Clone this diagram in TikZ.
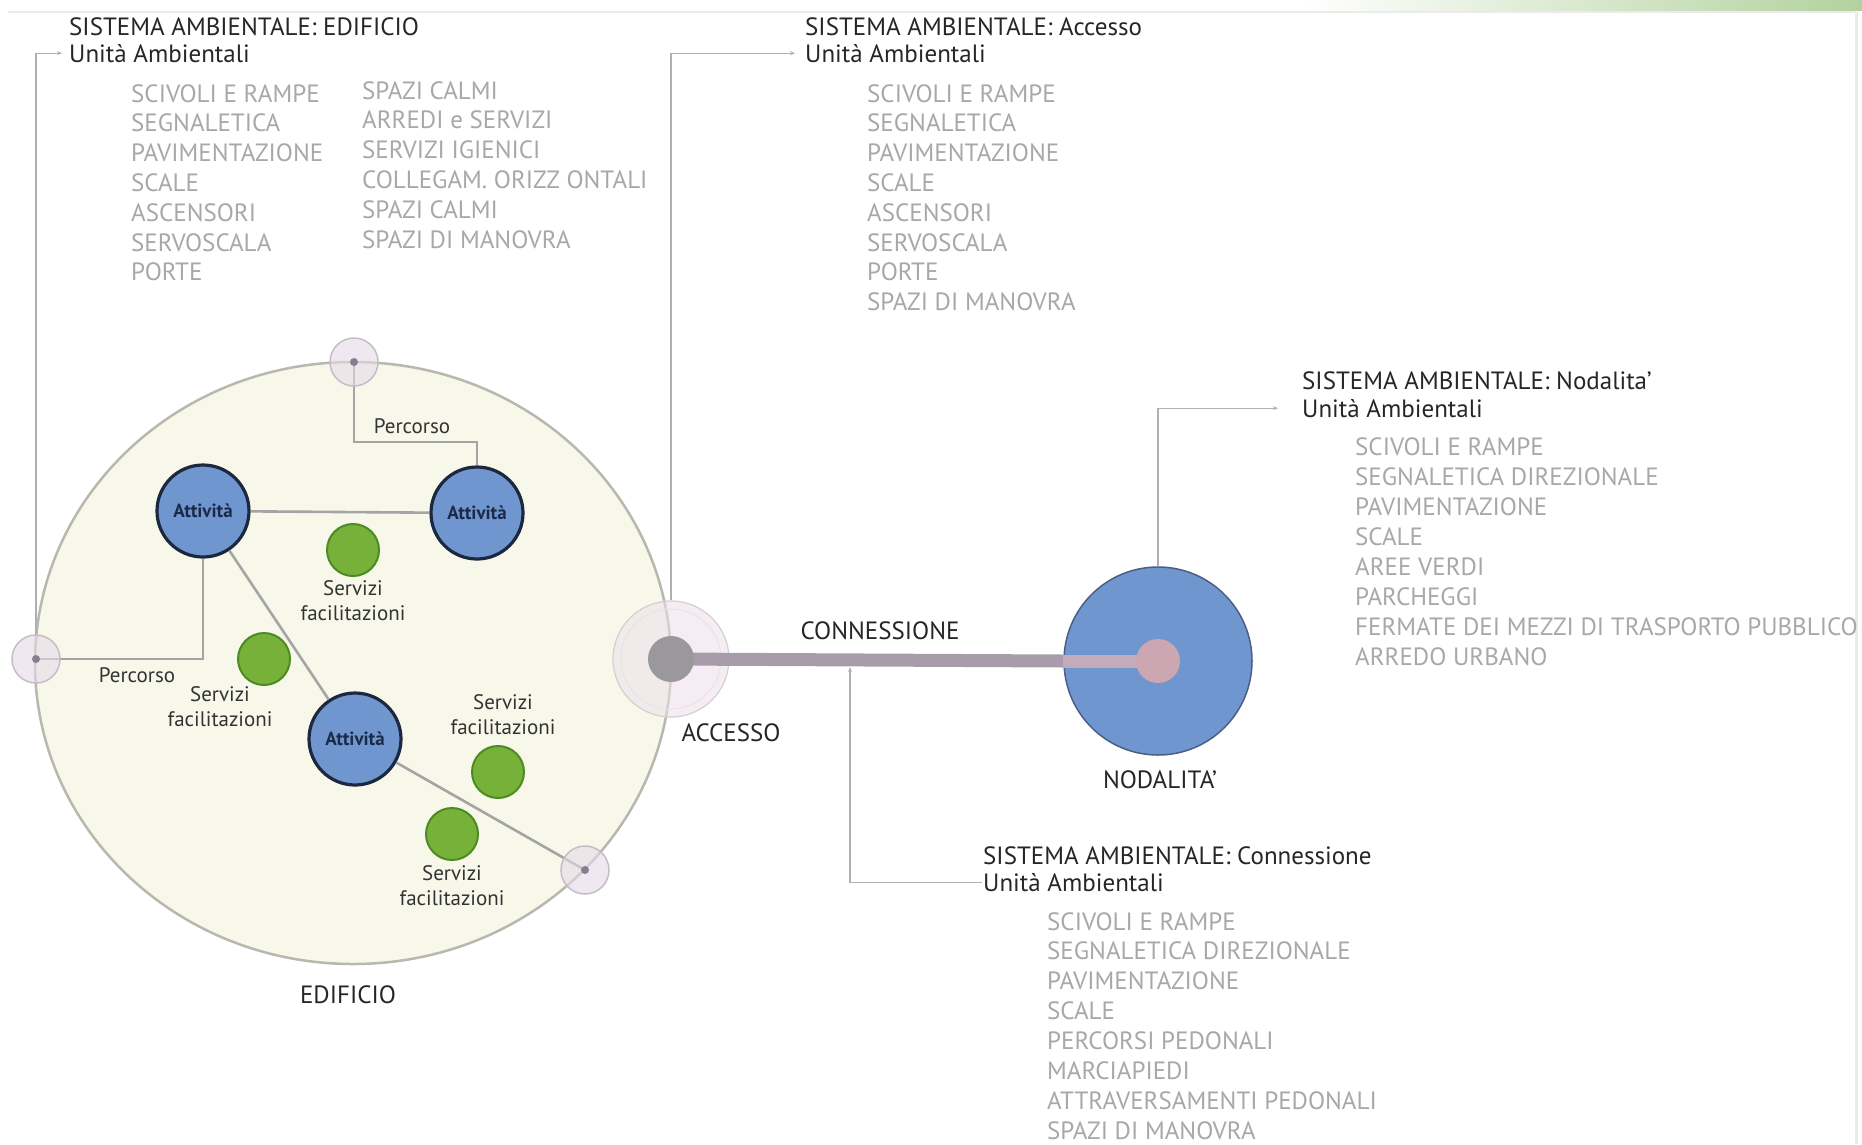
\documentclass[tikz,border=0pt]{standalone}
\usepackage{fontspec}
\setmainfont{PT Sans}
\usetikzlibrary{arrows.meta,shapes.geometric}
\definecolor{headc}{HTML}{262626}
\definecolor{itemc}{HTML}{A8A8A8}
\definecolor{linec}{HTML}{B0B0B0}
\definecolor{pathc}{HTML}{A4A4A4}
\definecolor{edfill}{HTML}{F8F8EA}
\definecolor{edline}{HTML}{B8B8AE}
\definecolor{actfill}{HTML}{7096CF}
\definecolor{actline}{HTML}{1C2840}
\definecolor{acttext}{HTML}{1C2A4A}
\definecolor{grfill}{HTML}{78B13A}
\definecolor{grline}{HTML}{4C8A26}
\definecolor{slabc}{HTML}{333333}
\definecolor{smfill}{HTML}{E6DAE8}
\definecolor{smline}{HTML}{C6BCC8}
\definecolor{smdot}{HTML}{8C7C8E}
\definecolor{accfill}{HTML}{EDE0EA}
\definecolor{accdisc}{HTML}{9B989C}
\definecolor{barc}{HTML}{A89CAB}
\definecolor{barin}{HTML}{C2ACBC}
\definecolor{pinkd}{HTML}{CCA6B0}
\definecolor{nodfill}{HTML}{7096CF}
\definecolor{nodline}{HTML}{4B5F84}
\definecolor{barG}{HTML}{B3D19E}
\begin{document}
\begin{tikzpicture}[x=1pt,y=-1pt,
  headtxt/.style={anchor=base west,inner sep=0pt,text=headc,font=\fontsize{25}{28}\selectfont},
  itemtxt/.style={anchor=base west,inner sep=0pt,text=itemc,font=\fontsize{25}{28}\selectfont},
  conn/.style={draw=linec,line width=1.3pt,-{Stealth[length=5pt,width=4pt]}},
  act/.style={circle,draw=actline,line width=3.2pt,fill=actfill,minimum size=92pt,inner sep=0pt,text=acttext,font=\fontsize{19}{22}\selectfont\bfseries},
  serv/.style={circle,draw=grline,line width=2pt,fill=grfill,minimum size=52pt,inner sep=0pt},
  slab/.style={align=center,inner sep=0pt,text=slabc,font=\fontsize{21}{25}\selectfont},
  perc/.style={draw=pathc,line width=2.6pt},
  smallc/.style={circle,draw=smline,line width=1.5pt,fill=smfill,fill opacity=0.6,minimum size=48pt,inner sep=0pt},
  cdot/.style={circle,fill=smdot,minimum size=8pt,inner sep=0pt},
  biglab/.style={inner sep=0pt,text=headc,font=\fontsize{25}{28}\selectfont}
]
\useasboundingbox (0,0) rectangle (1862,1144);
\fill[white] (0,0) rectangle (1862,1144);
\shade[left color=white,right color=barG] (1300,0) rectangle (1862,10);
\draw[black!8,line width=2pt] (8,12) -- (1856,12);
\draw[black!8,line width=3pt] (1856,12) -- (1856,1144);

% building
\node[ellipse,draw=edline,line width=2.5pt,fill=edfill,minimum width=636pt,minimum height=602pt,inner sep=0pt] (edif) at (353,663) {};
\node[biglab] (edlab) at (348,995) {EDIFICIO};

% key points
\coordinate (tc) at (354,362);
\coordinate (lc) at (36,659);
\coordinate (bc) at (585,870);
\coordinate (accp) at (671,659);

% nodalita
\node[circle,draw=nodline,line width=1.5pt,fill=nodfill,minimum size=188pt,inner sep=0pt] (nod) at (1158,661) {};
\node[biglab] (nodlab) at (1160,780) {NODALITA'};

% accesso
\node[circle,draw=black!18,line width=1.2pt,fill=accfill,fill opacity=0.55,minimum size=116pt,inner sep=0pt] (acco) at (accp) {};
\node[circle,draw=black!10,line width=1pt,minimum size=100pt,inner sep=0pt] (acci) at (accp) {};
\node[biglab] (acclab) at (731,733) {ACCESSO};

% connection bar
\draw[barc,line width=13pt] (accp) -- (nod.west);
\draw[barin,line width=13pt] (nod.west) -- (nod.center);
\node[circle,fill=pinkd,minimum size=44pt,inner sep=0pt] (nodc) at (nod.center) {};
\node[circle,fill=accdisc,minimum size=46pt,inner sep=0pt] (accd) at (accp) {};
\node[biglab] (conlab) at (880,631) {CONNESSIONE};
\coordinate (cbar) at (850,667);

% activities
\node[act] (A1) at (203,511) {Attività};
\node[act] (A2) at (477,513) {Attività};
\node[act] (A3) at (355,739) {Attività};

% percorsi
\draw[perc] (A1) -- (A2);
\draw[perc] (tc) -- ++(0,80) -| (A2.north);
\draw[perc] (A1.south) |- (lc);
\draw[perc] (A1) -- (A3);
\draw[perc] (A3) -- (bc);
\node[slab] (p1) at (412,426) {Percorso};
\node[slab] (p2) at (137,675) {Percorso};

% small access circles
\node[smallc] (tcc) at (tc) {};
\node[smallc] (lcc) at (lc) {};
\node[smallc] (bcc) at (bc) {};
\node[cdot] (tcd) at (tc) {};
\node[cdot] (lcd) at (lc) {};
\node[cdot] (bcd) at (bc) {};

% servizi
\node[serv] (G1) at (353,550) {};
\node[serv] (G2) at (264,659) {};
\node[serv] (G3) at (498,772) {};
\node[serv] (G4) at (452,834) {};
\node[slab] (s1) at (353,601) {Servizi\\facilitazioni};
\node[slab] (s2) at (220,707) {Servizi\\facilitazioni};
\node[slab] (s3) at (503,715) {Servizi\\facilitazioni};
\node[slab] (s4) at (452,886) {Servizi\\facilitazioni};

% EDIFICIO text
\node[headtxt] (edh1) at (69,35) {SISTEMA AMBIENTALE: EDIFICIO};
\node[headtxt] (edh2) at (69,62) {Unità Ambientali};
\foreach \t [count=\i] in {SCIVOLI E RAMPE,SEGNALETICA,PAVIMENTAZIONE,SCALE,ASCENSORI,SERVOSCALA,PORTE}
  \node[itemtxt] (ea\i) at (131,{102+29.8*(\i-1)}) {\t};
\foreach \t [count=\i] in {SPAZI CALMI,ARREDI e SERVIZI,SERVIZI IGIENICI,COLLEGAM. ORIZZ ONTALI,SPAZI CALMI,SPAZI DI MANOVRA}
  \node[itemtxt] (eb\i) at (362,{99+29.8*(\i-1)}) {\t};
\draw[conn] (lcc.north) |- ([xshift=-7pt]edh2.west);

% ACCESSO text
\node[headtxt] (ach1) at (805,35) {SISTEMA AMBIENTALE: Accesso};
\node[headtxt] (ach2) at (805,62) {Unità Ambientali};
\foreach \t [count=\i] in {SCIVOLI E RAMPE,SEGNALETICA,PAVIMENTAZIONE,SCALE,ASCENSORI,SERVOSCALA,PORTE,SPAZI DI MANOVRA}
  \node[itemtxt] (ac\i) at (867,{102+29.8*(\i-1)}) {\t};
\draw[conn] (acco.north) |- ([xshift=-10pt]ach2.west);

% NODALITA text
\node[headtxt] (noh1) at (1302,389) {SISTEMA AMBIENTALE: Nodalita'};
\node[headtxt] (noh2) at (1302,417) {Unità Ambientali};
\foreach \t [count=\i] in {SCIVOLI E RAMPE,SEGNALETICA DIREZIONALE,PAVIMENTAZIONE,SCALE,AREE VERDI,PARCHEGGI,FERMATE DEI MEZZI DI TRASPORTO PUBBLICO,ARREDO URBANO}
  \node[itemtxt] (no\i) at (1355,{455+30.1*(\i-1)}) {\t};
\draw[conn] (nod.north) |- ([xshift=-24pt]noh2.west);

% CONNESSIONE text
\node[headtxt] (cnh1) at (983,864) {SISTEMA AMBIENTALE: Connessione};
\node[headtxt] (cnh2) at (983,891) {Unità Ambientali};
\foreach \t [count=\i] in {SCIVOLI E RAMPE,SEGNALETICA DIREZIONALE,PAVIMENTAZIONE,SCALE,PERCORSI PEDONALI,MARCIAPIEDI,ATTRAVERSAMENTI PEDONALI,SPAZI DI MANOVRA}
  \node[itemtxt] (cn\i) at (1047,{930+29.9*(\i-1)}) {\t};
\draw[conn] ([xshift=-1pt]cnh2.west) -| (cbar);
\end{tikzpicture}
\end{document}
